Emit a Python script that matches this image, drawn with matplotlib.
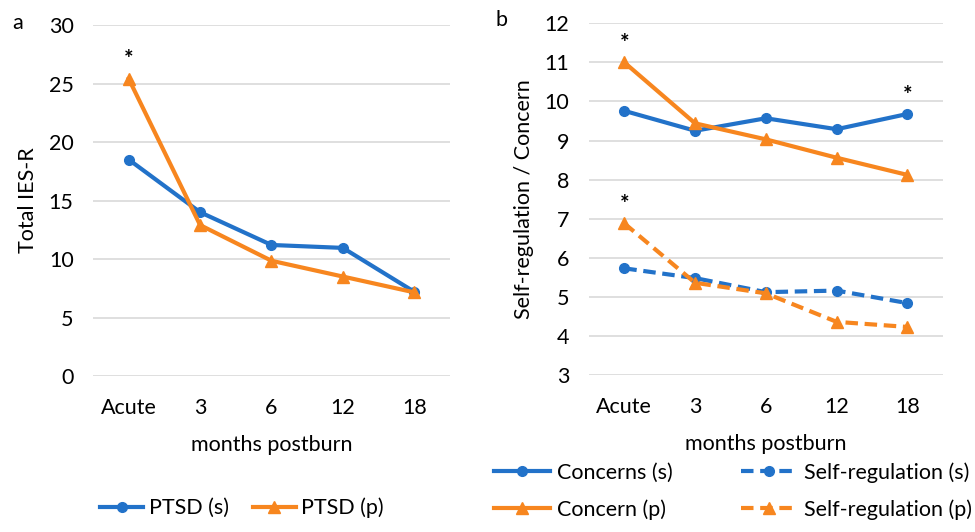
import matplotlib
matplotlib.use('Agg')
import matplotlib.pyplot as plt

plt.rcParams['font.family'] = ['Lato', 'DejaVu Sans']

months = ['Acute', '3', '6', '12', '18']

ptsd_s = [18.5, 14.0, 11.2, 10.95, 7.2]
ptsd_p = [25.4, 12.9, 9.85, 8.5, 7.15]

concerns_s = [9.76, 9.25, 9.57, 9.29, 9.68]
concern_p = [11.0, 9.44, 9.03, 8.56, 8.12]
selfreg_s = [5.73, 5.48, 5.12, 5.16, 4.84]
selfreg_p = [6.88, 5.36, 5.09, 4.36, 4.23]

BLUE = '#2272c9'
ORANGE = '#f7861f'
GRID = '#d9d9d9'
FS = 15.5

fig = plt.figure(figsize=(9.75, 5.32), dpi=100)
ax_a = fig.add_axes([0.0954, 0.2932, 0.3661, 0.6598])
ax_b = fig.add_axes([0.604, 0.2951, 0.363, 0.6611])

x = list(range(len(months)))
dash = (0, (3, 1.6))


def style_axes(ax, ylim, yticks, ylabel):
    ax.set_xlim(-0.5, len(months) - 0.5)
    ax.set_ylim(*ylim)
    ax.set_yticks(yticks)
    ax.set_xticks(x)
    ax.set_xticklabels(months)
    ax.grid(axis='y', color=GRID, linewidth=1.2)
    ax.set_axisbelow(True)
    for s in ax.spines.values():
        s.set_visible(False)
    ax.tick_params(length=0, labelsize=FS)
    ax.tick_params(axis='y', pad=14)
    ax.tick_params(axis='x', pad=16)
    ax.set_xlabel('months postburn', fontsize=FS, labelpad=12)
    ax.set_ylabel(ylabel, fontsize=FS, labelpad=8)


# panel a
ax_a.plot(x, ptsd_s, color=BLUE, lw=3, marker='o', ms=7, label='PTSD (s)')
ax_a.plot(x, ptsd_p, color=ORANGE, lw=3, marker='^', ms=8, label='PTSD (p)')
style_axes(ax_a, (0, 30), range(0, 31, 5), 'Total IES-R')
ax_a.annotate('*', (0, ptsd_p[0]), xytext=(0, 6), textcoords='offset points',
              ha='center', va='bottom', fontsize=16, fontweight='bold')
ax_a.legend(loc='center left', bbox_to_anchor=(0.103, 0.045), bbox_transform=fig.transFigure,
            ncol=2, frameon=False, fontsize=FS, handlelength=2.0, handletextpad=0.25,
            columnspacing=1.1, borderpad=0, borderaxespad=0)
fig.text(0.013, 0.945, 'a', fontsize=FS)

# panel b
ax_b.plot(x, concerns_s, color=BLUE, lw=3, marker='o', ms=7, label='Concerns (s)')
ax_b.plot(x, concern_p, color=ORANGE, lw=3, marker='^', ms=8, label='Concern (p)')
ax_b.plot(x, selfreg_s, color=BLUE, lw=3, ls=dash, marker='o', ms=7, label='Self-regulation (s)')
ax_b.plot(x, selfreg_p, color=ORANGE, lw=3, ls=dash, marker='^', ms=8, label='Self-regulation (p)')
style_axes(ax_b, (3, 12), range(3, 13), 'Self-regulation / Concern')
for xi, yi in [(0, concern_p[0]), (0, selfreg_p[0]), (4, concerns_s[4])]:
    ax_b.annotate('*', (xi, yi), xytext=(0, 6), textcoords='offset points',
                  ha='center', va='bottom', fontsize=16, fontweight='bold')
h, l = ax_b.get_legend_handles_labels()
ax_b.legend(h, l, loc='center left', bbox_to_anchor=(0.507, 0.077), bbox_transform=fig.transFigure,
            ncol=2, frameon=False, fontsize=FS, handlelength=2.6, handletextpad=0.3,
            columnspacing=3.2, labelspacing=0.75, borderpad=0, borderaxespad=0)
fig.text(0.508, 0.952, 'b', fontsize=FS)

fig.savefig('out.png', dpi=100)
